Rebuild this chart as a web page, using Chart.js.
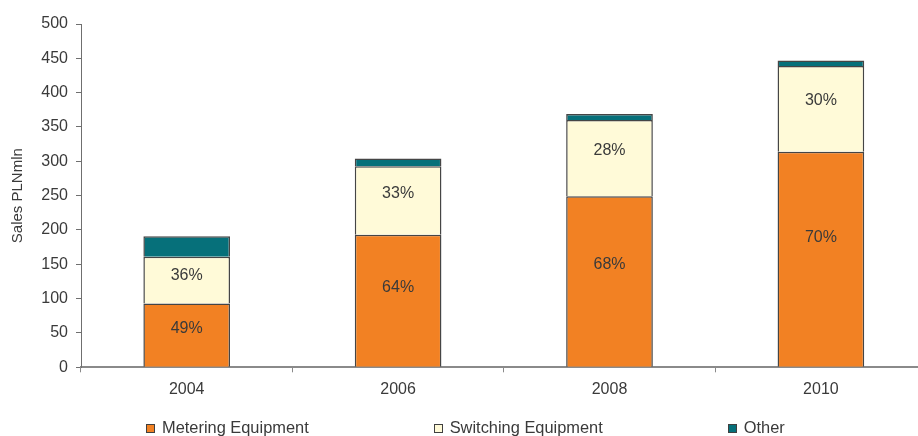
<!DOCTYPE html>
<html>
<head>
<meta charset="utf-8">
<script src="https://cdn.jsdelivr.net/npm/chart.js@4.4.1/dist/chart.umd.min.js"></script>
<style>
  html, body { margin: 0; padding: 0; background: #fff; }
  #wrap { position: relative; width: 918px; height: 436px; overflow: hidden; }
  #wrap canvas { position: absolute; left: 0; top: 0; }
  #legend {
    position: absolute; left: 146px; top: 418px;
    display: flex; gap: 125px;
    font: 16.4px "Liberation Sans", Arial, sans-serif; color: #3a3a3a;
  }
  .item { display: flex; align-items: center; gap: 7px; }
  .swatch { width: 7px; height: 7px; border: 1px solid #404040; margin-top: 2px; }
</style>
</head>
<body>
<div id="wrap">
  <canvas id="myChart"></canvas>
  <div id="legend"></div>
</div>
<script>
'use strict'

// years on the x axis
const years = ['2004', '2006', '2008', '2010'];

// sales by segment, PLN mln
const metering = [93, 193, 249, 314];
const switching = [68, 100, 111, 125];
const other = [30, 11, 9, 8];

// share labels printed inside the segments
const meteringShare = ['49%', '64%', '68%', '70%'];
const switchingShare = ['36%', '33%', '28%', '30%'];

const seriesNames = ['Metering Equipment', 'Switching Equipment', 'Other'];
const seriesColors = ['#F28123', '#FFFAD8', '#06707A'];

const font = '"Liberation Sans", Arial, sans-serif';
const textColor = '#3a3a3a';

// writes the percentage labels into the two lower segments
const shareLabels = {
  id: 'shareLabels',
  afterDatasetsDraw(chart) {
    const ctx = chart.ctx;
    const labels = [meteringShare, switchingShare];
    ctx.save();
    ctx.font = '16px ' + font;
    ctx.fillStyle = textColor;
    ctx.textAlign = 'center';
    ctx.textBaseline = 'middle';
    labels.forEach(function (list, d) {
      chart.getDatasetMeta(d).data.forEach(function (bar, i) {
        const y = bar.base - (bar.base - bar.y) * 0.6;
        ctx.fillText(list[i], bar.x, y);
      });
    });
    ctx.restore();
  }
};

const values = [metering, switching, other];
const datasets = seriesNames.map(function (name, i) {
  return {
    label: name,
    data: values[i],
    backgroundColor: seriesColors[i],
    borderColor: '#454545',
    borderWidth: 1.5,
    borderSkipped: 'start',
    barPercentage: 0.41,
    categoryPercentage: 1
  };
});

const canvas = document.getElementById('myChart');
canvas.width = 930;
canvas.height = 436;
canvas.style.width = '930px';
canvas.style.height = '436px';

const ctx = canvas.getContext('2d');
const myChart = new Chart(ctx, {
  type: 'bar',
  data: { labels: years, datasets: datasets },
  options: {
    responsive: false,
    animation: false,
    layout: { padding: { top: 24, right: 3.4, bottom: 35.7, left: 0 } },
    plugins: {
      legend: { display: false },
      tooltip: { enabled: false }
    },
    scales: {
      x: {
        stacked: true,
        afterFit: function (scale) { scale.height = 33; },
        grid: {
          offset: true,
          drawOnChartArea: false,
          tickLength: 5,
          color: '#8a8a8a',
          lineWidth: 1
        },
        border: { display: true, color: '#8a8a8a', width: 2 },
        ticks: { color: textColor, font: { family: font, size: 16 }, padding: 8 }
      },
      y: {
        stacked: true,
        min: 0,
        max: 500,
        afterFit: function (scale) { scale.width = 81; },
        grid: {
          drawOnChartArea: false,
          tickLength: 5,
          color: '#6f6f6f',
          lineWidth: 1
        },
        border: { display: true, color: '#6f6f6f', width: 1 },
        ticks: {
          stepSize: 50,
          color: textColor,
          font: { family: font, size: 16 },
          padding: 8
        },
        title: {
          display: true,
          text: 'Sales PLNmln',
          color: textColor,
          font: { family: font, size: 15 },
          padding: { top: 9, bottom: 0 }
        }
      }
    }
  },
  plugins: [shareLabels]
});

// legend row under the axis
const legend = document.getElementById('legend');
seriesNames.forEach(function (name, i) {
  const item = document.createElement('div');
  item.className = 'item';
  const sw = document.createElement('span');
  sw.className = 'swatch';
  sw.style.background = seriesColors[i];
  const txt = document.createElement('span');
  txt.textContent = name;
  item.appendChild(sw);
  item.appendChild(txt);
  legend.appendChild(item);
});
</script>
</body>
</html>
